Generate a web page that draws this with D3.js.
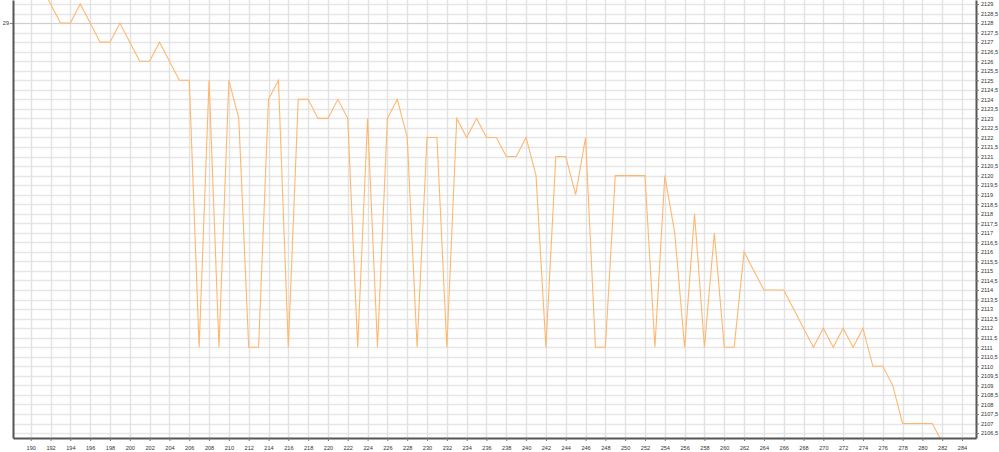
<!DOCTYPE html>
<html>
<head>
<meta charset="utf-8">
<script src="https://cdn.jsdelivr.net/npm/d3@7/dist/d3.min.js"></script>
<style>
  html, body { margin: 0; padding: 0; background: #fff; }
  svg { display: block; }
  text { font-family: "Liberation Sans", Arial, sans-serif; }
</style>
</head>
<body>
<svg id="chart" width="999" height="452"></svg>
<script>
// ---- data ----
const xValues = [191,192,193,194,195,196,197,198,199,200,201,202,203,204,205,206,207,208,209,210,
  211,212,213,214,215,216,217,218,219,220,221,222,223,224,225,226,227,228,229,230,
  231,232,233,234,235,236,237,238,239,240,241,242,243,244,245,246,247,248,249,250,
  251,252,253,254,255,256,257,258,259,260,261,262,263,264,265,266,267,268,269,270,
  271,272,273,274,275,276,277,278,279,280,281,282];
const yValues = [2130,2129,2128,2128,2129,2128,2127,2127,2128,2127,2126,2126,2127,2126,2125,2125,2111,2125,2111,2125,
  2123,2111,2111,2124,2125,2111,2124,2124,2123,2123,2124,2123,2111,2123,2111,2123,2124,2122,2111,2122,
  2122,2111,2123,2122,2123,2122,2122,2121,2121,2122,2120,2111,2121,2121,2119,2122,2111,2111,2120,2120,
  2120,2120,2111,2120,2117,2111,2118,2111,2117,2111,2111,2116,2115,2114,2114,2114,2113,2112,2111,2112,
  2111,2112,2111,2112,2110,2110,2109,2107,2107,2107,2107,2106];
const xTickValues = d3.range(190, 285, 2);
const rightTickValues = d3.range(2106.5, 2129.01, 0.5);
const leftTickValues = [29];
const xDomain = [188.21, 285.41];
const yDomain = [2106.24, 2129.21];
const leftOffset = 2099;

// ---- layout ----
const svg = d3.select("#chart");
const plot = { left: 13, right: 976, top: 0, bottom: 438 };

const x = d3.scaleLinear().domain(xDomain).range([plot.left, plot.right]);
const y = d3.scaleLinear().domain(yDomain).range([plot.bottom, plot.top]);
const yLeft = d3.scaleLinear().domain([yDomain[0] - leftOffset, yDomain[1] - leftOffset]).range([plot.bottom, plot.top]);

svg.append("defs").append("clipPath").attr("id", "clip")
  .append("rect").attr("x", plot.left).attr("y", plot.top)
  .attr("width", plot.right - plot.left).attr("height", plot.bottom - plot.top);

// gridlines
const grid = svg.append("g");
grid.selectAll("line.h").data(rightTickValues).join("line")
  .attr("x1", plot.left).attr("x2", plot.right)
  .attr("y1", d => Math.round(y(d)) + 0.5).attr("y2", d => Math.round(y(d)) + 0.5)
  .attr("stroke", "#e6e6e6").attr("stroke-width", 1.4);
grid.selectAll("line.v").data(xTickValues).join("line")
  .attr("y1", plot.top).attr("y2", plot.bottom)
  .attr("x1", d => Math.round(x(d)) + 0.5).attr("x2", d => Math.round(x(d)) + 0.5)
  .attr("stroke", "#e2e2e2").attr("stroke-width", 1.4);
grid.selectAll("line.l").data(leftTickValues).join("line")
  .attr("x1", plot.left).attr("x2", plot.right)
  .attr("y1", d => Math.round(yLeft(d)) + 0.5).attr("y2", d => Math.round(yLeft(d)) + 0.5)
  .attr("stroke", "#cfcfcf").attr("stroke-width", 1.2);

// line
const pts = xValues.map((d, i) => [d, yValues[i]]);
svg.append("path").datum(pts)
  .attr("clip-path", "url(#clip)")
  .attr("fill", "none")
  .attr("stroke", "#ffb76e")
  .attr("stroke-width", 1.1)
  .attr("stroke-linejoin", "miter")
  .attr("d", d3.line().x(d => x(d[0])).y(d => y(d[1])));

// axes
const fmt = d => String(d).replace(".", ",");
const bottomAxis = svg.append("g").attr("transform", `translate(0,${plot.bottom})`)
  .call(d3.axisBottom(x).tickValues(xTickValues).tickSize(3).tickSizeOuter(0).tickFormat(d3.format("d")));
const rightAxis = svg.append("g").attr("transform", `translate(${plot.right},0)`)
  .call(d3.axisRight(y).tickValues(rightTickValues).tickSize(3).tickSizeOuter(0).tickFormat(fmt));
const leftAxis = svg.append("g").attr("transform", `translate(${plot.left},0)`)
  .call(d3.axisLeft(yLeft).tickValues(leftTickValues).tickSize(3).tickSizeOuter(0).tickFormat(d3.format("d")));

[bottomAxis, rightAxis, leftAxis].forEach(g => {
  g.select(".domain").attr("stroke", "#555").attr("stroke-width", 2);
  g.selectAll(".tick line").attr("stroke", "#777");
  g.selectAll(".tick text").attr("fill", "#333").attr("font-size", 5.6)
    .attr("font-family", "'Liberation Sans', Arial, sans-serif");
});
bottomAxis.selectAll(".tick text").attr("dy", "1.1em");
rightAxis.selectAll(".tick text").attr("x", 5);
leftAxis.selectAll(".tick text").attr("x", -4);
</script>
</body>
</html>
